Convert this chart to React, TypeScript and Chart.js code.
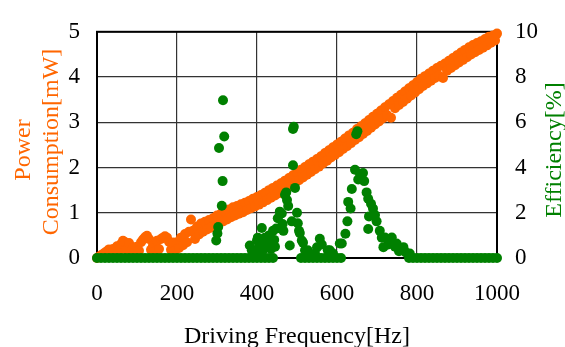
import React, { useEffect, useRef } from "react";
import { Chart, registerables } from "chart.js";

Chart.register(...registerables);

// Driving frequency [Hz] for power consumption samples
const powerFreq = [
  0, 5, 10, 15, 20, 25, 30, 35, 40, 45, 50, 55, 60, 65, 70, 75, 80, 85, 90, 95,
  100, 105, 110, 115, 120, 125, 130, 135, 140, 145, 150, 155, 160, 165, 170, 175, 180, 185, 190, 195,
  200, 205, 210, 215, 220, 225, 230, 235, 240, 245, 250, 255, 260, 265, 270, 275, 280, 285, 290, 295,
  300, 305, 310, 315, 320, 325, 330, 335, 340, 345, 350, 355, 360, 365, 370, 375, 380, 385, 390, 395,
  400, 405, 410, 415, 420, 425, 430, 435, 440, 445, 450, 455, 460, 465, 470, 475, 480, 485, 490, 495,
  500, 505, 510, 515, 520, 525, 530, 535, 540, 545, 550, 555, 560, 565, 570, 575, 580, 585, 590, 595,
  600, 605, 610, 615, 620, 625, 630, 635, 640, 645, 650, 655, 660, 665, 670, 675, 680, 685, 690, 695,
  700, 705, 710, 715, 720, 725, 730, 735, 740, 745, 750, 755, 760, 765, 770, 775, 780, 785, 790, 795,
  800, 805, 810, 815, 820, 825, 830, 835, 840, 845, 850, 855, 860, 865, 870, 875, 880, 885, 890, 895,
  900, 905, 910, 915, 920, 925, 930, 935, 940, 945, 950, 955, 960, 965, 970, 975, 980, 985, 990, 995,
  1000,
];

// Power consumption [mW]
const powerValues = [
  0.0, 0.03, 0.06, 0.09, 0.12, 0.15, 0.19, 0.12, 0.2, 0.14, 0.26, 0.16, 0.31, 0.38, 0.35, 0.18, 0.33, 0.15, 0.24, 0.13,
  0.25, 0.16, 0.35, 0.41, 0.46, 0.49, 0.42, 0.18, 0.28, 0.15, 0.38, 0.2, 0.42, 0.45, 0.48, 0.45, 0.36, 0.18, 0.34, 0.16,
  0.35, 0.22, 0.45, 0.28, 0.53, 0.35, 0.58, 0.85, 0.6, 0.42, 0.69, 0.52, 0.76, 0.58, 0.8, 0.63, 0.84, 0.67, 0.88, 0.71,
  0.94, 0.76, 0.98, 0.81, 1.03, 0.85, 1.07, 0.9, 1.12, 0.94, 1.15, 0.98, 1.19, 1.01, 1.22, 1.06, 1.26, 1.1, 1.31, 1.14,
  1.35, 1.18, 1.39, 1.23, 1.44, 1.28, 1.5, 1.33, 1.55, 1.38, 1.6, 1.43, 1.65, 1.49, 1.71, 1.55, 1.77, 1.6, 1.83, 1.66,
  1.89, 1.72, 1.95, 1.78, 2.01, 1.84, 2.07, 1.9, 2.13, 1.96, 2.19, 2.02, 2.25, 2.09, 2.32, 2.15, 2.38, 2.22, 2.45, 2.28,
  2.51, 2.34, 2.57, 2.41, 2.64, 2.47, 2.71, 2.54, 2.77, 2.61, 2.85, 2.67, 2.91, 2.74, 2.98, 2.81, 3.05, 2.88, 3.12, 2.95,
  3.19, 3.02, 3.26, 3.09, 3.33, 3.16, 3.4, 3.1, 3.47, 3.31, 3.54, 3.38, 3.61, 3.45, 3.68, 3.52, 3.75, 3.59, 3.82, 3.66,
  3.89, 3.73, 3.96, 3.8, 4.02, 3.86, 4.08, 3.92, 4.14, 3.98, 4.2, 4.03, 4.25, 3.98, 4.3, 4.14, 4.36, 4.2, 4.42, 4.26,
  4.48, 4.32, 4.54, 4.38, 4.6, 4.44, 4.66, 4.5, 4.71, 4.55, 4.75, 4.6, 4.79, 4.65, 4.84, 4.7, 4.89, 4.76, 4.92, 4.81,
  4.96,
];

// Driving frequency [Hz] for efficiency samples
const effFreq = [
  0, 10, 20, 30, 40, 50, 60, 70, 80, 90, 100, 110, 120, 130, 140, 150, 160, 170, 180, 190,
  200, 210, 220, 230, 240, 250, 260, 270, 280, 290, 300, 310, 320, 330, 340, 350, 360, 370, 380, 390,
  400, 410, 420, 430, 440,
  298, 301, 303, 305, 312, 314, 315, 318,
  382, 387, 395, 400, 402, 405, 410, 412, 415, 418, 420, 425, 430, 432, 435, 440, 443, 445, 448, 452,
  457, 462, 464, 466, 470, 473, 475, 478, 482, 487, 490, 490, 492, 495, 500, 502, 505, 507, 512, 515,
  520, 527, 535, 545, 550, 557, 562, 577, 582, 590, 607, 612,
  510, 520, 530, 540, 550, 560, 570, 580, 590, 600, 610,
  621, 626, 628, 634, 637, 645, 648, 651, 653, 658, 665, 668, 674, 678, 680, 678, 685, 690, 695, 699,
  707, 712, 716, 720, 728, 737, 745, 749, 755, 766, 772, 782,
  780, 790, 800, 810, 820, 830, 840, 850, 860, 870, 880, 890, 900, 910, 920, 930, 940, 950, 960, 970,
  980, 990, 1000,
];

// Efficiency [%]
const effValues = [
  0, 0, 0, 0, 0, 0, 0, 0, 0, 0, 0, 0, 0, 0, 0, 0, 0, 0, 0, 0,
  0, 0, 0, 0, 0, 0, 0, 0, 0, 0, 0, 0, 0, 0, 0, 0, 0, 0, 0, 0,
  0, 0, 0, 0, 0,
  0.77, 1.08, 1.37, 4.86, 2.31, 3.4, 6.97, 5.37,
  0.55, 0.34, 0.2, 0.77, 0.9, 0.5, 0.3, 1.33, 0.34, 0.6, 0.9, 0.7, 1.0, 0.9, 0.4, 1.2, 0.8, 0.5, 1.3, 1.76,
  2.05, 1.97, 1.5, 1.2, 2.8, 2.9, 2.56, 2.3, 0.55, 1.62, 4.1, 5.7, 5.8, 3.1, 2.0, 1.54, 1.2, 1.1, 0.77, 0.68,
  0.34, 0.34, 0.1, 0.2, 0.47, 0.85, 0.6, 0.34, 0.34, 0.2, 0.64, 0.64,
  0, 0, 0, 0, 0, 0, 0, 0, 0, 0, 0,
  1.07, 1.62, 2.48, 2.19, 3.05, 3.9, 5.47, 5.6, 3.47, 3.7, 3.76, 3.4, 2.9, 2.62, 1.84, 1.28, 2.4, 2.19, 1.9, 1.62,
  1.2, 0.9, 0.48, 0.91, 0.6, 0.91, 0.5, 0.64, 0.3, 0.48, 0.25, 0.2,
  0, 0, 0, 0, 0, 0, 0, 0, 0, 0, 0, 0, 0, 0, 0, 0, 0, 0, 0, 0,
  0, 0, 0,
];

const xTitle = "Driving Frequency[Hz]";
const leftTitleLines = ["Power", "Consumption[mW]"];
const rightTitle = "Efficiency[%]";

const ORANGE = "#FF6600";
const GREEN = "#008000";
const FONT = '"Liberation Serif", "Times New Roman", serif';

export default function App() {
  const canvasRef = useRef<HTMLCanvasElement | null>(null);

  useEffect(() => {
    document.body.style.margin = "0";
    const canvas = canvasRef.current;
    if (!canvas) return;

    const powerData = powerFreq.map((f, i) => ({ x: f, y: powerValues[i] }));
    const effData = effFreq.map((f, i) => ({ x: f, y: effValues[i] }));

    const framePlugin = {
      id: "frame",
      beforeDatasetsDraw(chart: any) {
        const { ctx, chartArea } = chart;
        ctx.save();
        ctx.strokeStyle = "#000";
        ctx.lineWidth = 2;
        ctx.strokeRect(chartArea.left, chartArea.top, chartArea.right - chartArea.left, chartArea.bottom - chartArea.top);
        ctx.restore();
      },
      afterDraw(chart: any) {
        const { ctx } = chart;
        ctx.save();
        ctx.font = `24px ${FONT}`;
        ctx.textAlign = "center";
        ctx.textBaseline = "alphabetic";
        ctx.fillStyle = "#000";
        ctx.fillText(xTitle, 297, 343);
        ctx.fillStyle = ORANGE;
        ctx.save();
        ctx.translate(30, 150);
        ctx.rotate(-Math.PI / 2);
        ctx.fillText(leftTitleLines[0], 0, 0);
        ctx.restore();
        ctx.save();
        ctx.translate(58, 142);
        ctx.rotate(-Math.PI / 2);
        ctx.fillText(leftTitleLines[1], 0, 0);
        ctx.restore();
        ctx.fillStyle = GREEN;
        ctx.save();
        ctx.translate(561, 150);
        ctx.rotate(-Math.PI / 2);
        ctx.fillText(rightTitle, 0, 0);
        ctx.restore();
        ctx.restore();
      },
    };

    const chart = new Chart(canvas, {
      type: "scatter",
      data: {
        datasets: [
          {
            label: "Efficiency",
            data: effData,
            yAxisID: "y2",
            backgroundColor: GREEN,
            borderWidth: 0,
            pointRadius: 5,
            pointHoverRadius: 5,
            clip: false,
          },
          {
            label: "Power",
            data: powerData,
            yAxisID: "y",
            backgroundColor: ORANGE,
            borderWidth: 0,
            pointRadius: 5,
            pointHoverRadius: 5,
            clip: false,
          },
        ],
      },
      options: {
        responsive: false,
        animation: false,
        events: [],
        layout: { padding: { top: 24, left: 0, right: 0, bottom: 0 } },
        plugins: {
          legend: { display: false },
          tooltip: { enabled: false },
          title: { display: false },
        },
        scales: {
          x: {
            type: "linear",
            min: 0,
            max: 1000,
            ticks: {
              stepSize: 200,
              color: "#000",
              font: { family: FONT, size: 23 },
              padding: 22,
              maxRotation: 0,
              callback: (v: any) => String(v),
            },
            grid: { color: "#333", lineWidth: 1.2, drawTicks: false },
            border: { display: false },
            afterFit: (s: any) => {
              s.height = 89;
            },
          },
          y: {
            position: "left",
            min: 0,
            max: 5,
            ticks: { stepSize: 1, color: "#000", font: { family: FONT, size: 23 }, padding: 17 },
            grid: { color: "#333", lineWidth: 1.2, drawTicks: false },
            border: { display: false },
            afterFit: (s: any) => {
              s.width = 97;
            },
          },
          y2: {
            position: "right",
            min: 0,
            max: 10,
            ticks: { stepSize: 2, color: "#000", font: { family: FONT, size: 23 }, padding: 18 },
            grid: { display: false, drawTicks: false },
            border: { display: false },
            afterFit: (s: any) => {
              s.width = 68;
            },
          },
        },
      },
      plugins: [framePlugin],
    } as any);

    return () => chart.destroy();
  }, []);

  return (
    <div style={{ width: 565, height: 347 }}>
      <canvas ref={canvasRef} width={565} height={347} style={{ display: "block" }} />
    </div>
  );
}
